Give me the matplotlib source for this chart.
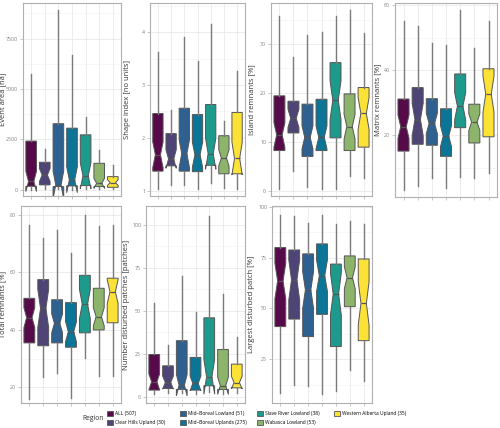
import numpy as np
import matplotlib
matplotlib.use("Agg")
import matplotlib.pyplot as plt
from matplotlib.patches import Patch
from matplotlib.ticker import AutoMinorLocator

plt.rcParams['font.family'] = ['Open Sans', 'DejaVu Sans']

regions = ['ALL (507)', 'Clear Hills Upland (30)', 'Mid\u2013Boreal Lowland (51)',
           'Mid\u2013Boreal Uplands (275)', 'Slave River Lowland (38)',
           'Wabasca Lowland (53)', 'Western Alberta Upland (35)']
# sample sizes that reproduce the notch widths seen in the figure
notch_n = [50, 30, 51, 50, 38, 53, 35]
colors = ['#560A4A', '#4E4476', '#2F6190', '#0B7597', '#1E9A8C', '#8CB46A', '#FCE236']

# each row: lower whisker, q1, median, q3, upper whisker
event_area = [[20, 180, 420, 2420, 5750],
              [50, 250, 740, 1370, 2020],
              [30, 165, 250, 3280, 8900],
              [20, 200, 500, 3060, 6700],
              [50, 215, 700, 2730, 3590],
              [30, 165, 330, 1320, 2000],
              [30, 130, 365, 660, 1240]]
shape_index = [[1.03, 1.37, 1.68, 2.46, 3.63],
               [1.11, 1.47, 1.60, 2.08, 2.53],
               [1.10, 1.37, 1.70, 2.56, 3.90],
               [1.03, 1.36, 1.68, 2.44, 3.45],
               [1.15, 1.48, 1.70, 2.63, 4.16],
               [1.06, 1.32, 1.62, 2.04, 2.31],
               [1.04, 1.32, 1.61, 2.48, 3.26]]
island = [[0.3, 8.2, 11.4, 19.4, 35.7],
          [4.0, 11.8, 14.8, 18.3, 27.3],
          [0.8, 7.0, 10.9, 17.7, 31.8],
          [0.3, 8.2, 10.9, 18.7, 32.4],
          [0.3, 10.8, 18.5, 26.2, 35.7],
          [2.9, 8.2, 13.1, 19.8, 36.9],
          [2.5, 8.9, 15.8, 21.1, 32.2]]
matrix = [[3.3, 15.1, 22.6, 31.1, 55.2],
          [4.3, 17.2, 24.8, 34.6, 53.6],
          [6.9, 16.9, 23.6, 31.2, 48.2],
          [3.8, 13.5, 19.7, 28.1, 47.7],
          [7.2, 22.3, 28.9, 38.8, 58.3],
          [6.9, 17.6, 24.0, 29.5, 46.7],
          [8.5, 19.5, 32.6, 40.4, 55.2]]
total = [[16.0, 35.5, 44.3, 51.0, 76.6],
         [23.5, 34.5, 47.5, 57.5, 71.8],
         [25.0, 35.5, 42.3, 50.5, 74.9],
         [16.5, 34.0, 39.4, 49.5, 66.6],
         [30.2, 39.0, 49.0, 59.0, 80.1],
         [24.0, 40.0, 44.6, 54.5, 76.2],
         [24.0, 42.5, 53.3, 58.0, 76.6]]
n_patches = [[1.9, 3.9, 8.7, 24.6, 54.6],
             [2.5, 4.8, 8.3, 18.0, 30.4],
             [2.3, 4.3, 6.8, 32.6, 70.2],
             [1.9, 3.9, 7.8, 22.9, 49.4],
             [2.9, 6.4, 11.6, 45.9, 105.0],
             [1.9, 4.3, 6.4, 27.5, 59.5],
             [2.5, 5.2, 8.3, 19.0, 34.5]]
largest = [[8.3, 41.1, 63.5, 79.9, 95.9],
           [12.4, 44.8, 64.0, 78.7, 95.6],
           [12.1, 36.2, 59.1, 76.8, 91.8],
           [8.0, 47.1, 66.1, 81.7, 95.9],
           [9.5, 31.3, 57.1, 71.8, 91.3],
           [19.8, 50.9, 65.1, 75.8, 93.0],
           [14.6, 34.2, 52.5, 74.3, 91.3]]

# data, y label, y ticks, y limits, panel box in pixels (left, right, top, bottom), y label x (px)
panels = [
    (event_area, 'Event area [ha]', [0, 2500, 5000, 7500], (-300, 9260), (23, 121, 3, 196), 6),
    (shape_index, 'Shape index [no units]', [1, 2, 3, 4], (0.9, 4.55), (150, 245, 3, 196), 131),
    (island, 'Island remnants [%]', [0, 10, 20, 30], (-1.1, 38.4), (271, 372, 3, 196), 255),
    (matrix, 'Matrix remnants [%]', [20, 40, 60], (1.0, 60.6), (395, 497, 3, 197), 381),
    (total, 'Total remnants [%]', [20, 40, 60, 80], (14.6, 83.1), (21, 121, 206, 403), 6.5),
    (n_patches, 'Number disturbed patches [patches]', [0, 25, 50, 75, 100], (-3.6, 110.9),
     (146, 245, 206, 403), 130),
    (largest, 'Largest disturbed patch [%]', [25, 50, 75, 100], (3.6, 100.3),
     (272, 372, 206, 403), 255),
]

W, H = 500, 428
fig = plt.figure(figsize=(W / 100, H / 100), dpi=100)

for data, label, ticks, ylim, (l, r, t, b), lx in panels:
    ax = fig.add_axes([l / W, 1 - b / H, (r - l) / W, (b - t) / H])
    stats = []
    for vals, n in zip(data, notch_n):
        lo, q1, med, q3, hi = vals
        ci = 1.58 * (q3 - q1) / np.sqrt(n)
        stats.append(dict(whislo=lo, q1=q1, med=med, q3=q3, whishi=hi,
                          cilo=med - ci, cihi=med + ci, fliers=[]))
    bp = ax.bxp(stats, positions=range(1, 8), widths=0.78, shownotches=True,
                showcaps=False, showfliers=False, patch_artist=True,
                boxprops=dict(edgecolor='#555555', linewidth=0.7),
                whiskerprops=dict(color='#7a7a7a', linewidth=1.0),
                medianprops=dict(color='#555555', linewidth=0.9))
    for patch, c in zip(bp['boxes'], colors):
        patch.set_facecolor(c)
    ax.set_xlim(0.4, 7.6)
    ax.set_ylim(*ylim)
    ax.set_yticks(ticks)
    ax.set_xticks(range(1, 8))
    ax.set_xticklabels([])
    ax.yaxis.set_minor_locator(AutoMinorLocator(2))
    ax.grid(True, which='major', color='#e6e6e6', linewidth=0.5)
    ax.grid(True, which='minor', axis='y', color='#f2f2f2', linewidth=0.4)
    ax.set_axisbelow(True)
    for s in ax.spines.values():
        s.set_color('#b0b0b0')
        s.set_linewidth(0.8)
    ax.tick_params(axis='both', which='major', length=2, width=0.5,
                   color='#b0b0b0', labelsize=3.8, labelcolor='#808080', pad=1.5)
    ax.tick_params(axis='y', which='minor', length=0)
    ax.set_ylabel(label, fontsize=5.5, color='#333333')
    ax.yaxis.set_label_coords((lx - l) / (r - l), 0.5)

# legend: one column at a time so the key positions match
fig.text(82 / W, 1 - 419 / H, 'Region', fontsize=4.8, color='#333333', va='center')
handles = [Patch(facecolor=c, edgecolor='#555555', linewidth=0.6) for c in colors]
col_x = [107, 180, 257, 334]
for i, x in enumerate(col_x):
    idx = [j for j in (2 * i, 2 * i + 1) if j < len(regions)]
    fig.legend([handles[j] for j in idx], [regions[j] for j in idx],
               loc='upper left', bbox_to_anchor=(x / W, 1 - 411 / H),
               frameon=False, fontsize=3.5, handlelength=1.25, handleheight=1.0,
               handletextpad=0.45, labelspacing=0.85, borderaxespad=0, borderpad=0)

fig.savefig('out.png', dpi=100, facecolor='white')
